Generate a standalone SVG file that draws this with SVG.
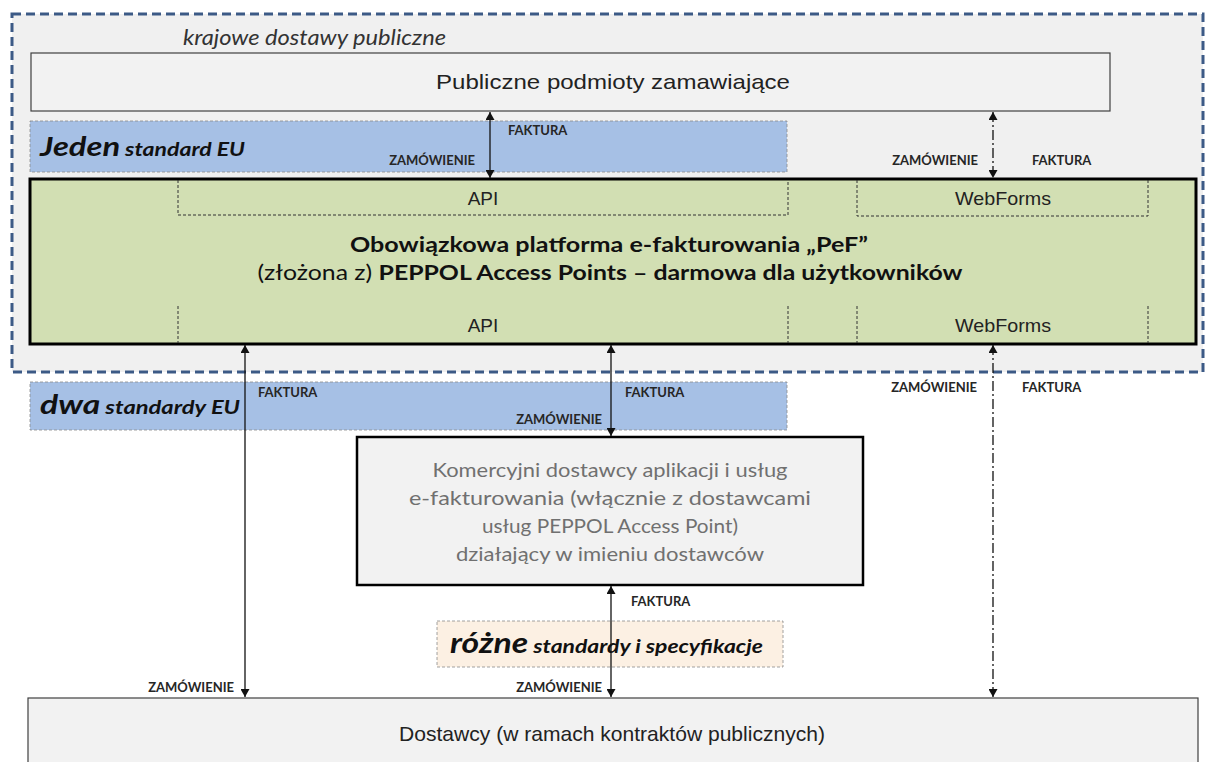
<svg xmlns="http://www.w3.org/2000/svg" width="1207" height="762" viewBox="0 0 1207 762">
<style>
.sans{font-family:"Liberation Sans",Arial,sans-serif;fill:#222}
.cal{font-family:Lato,"Open Sans",sans-serif}
.lbl{font-family:Lato,"Open Sans",sans-serif;font-weight:bold;font-size:13px;fill:#262626}
.band{stroke:#8a8a8a;stroke-width:0.8;stroke-dasharray:3 2}
.sub{fill:none;stroke:#333;stroke-width:1;stroke-dasharray:3 2}
.conn{stroke:#111;stroke-width:1.3;fill:none;marker-start:url(#ah);marker-end:url(#ah)}
.dd{stroke-dasharray:10 3 2 3}
</style>
<defs>
<marker id="ah" markerWidth="8" markerHeight="9" refX="8" refY="4.5" orient="auto-start-reverse" markerUnits="userSpaceOnUse">
<path d="M0,0 L8,4.5 L0,9 z" fill="#111"/>
</marker>
</defs>
<rect width="1207" height="762" fill="#ffffff"/>

<g id="container">
<rect x="12" y="14" width="1191" height="358" fill="#f0f0f0" stroke="#3c5a86" stroke-width="3" stroke-dasharray="9 5"/>
<text x="183" y="45" class="cal" font-style="italic" font-size="21" fill="#333" textLength="263" lengthAdjust="spacingAndGlyphs">krajowe dostawy publiczne</text>
</g>

<g id="public-entities">
<rect x="31" y="53" width="1079" height="58" fill="#f2f2f2" stroke="#404040" stroke-width="1.2"/>
<text x="613" y="89" class="sans" font-size="21" text-anchor="middle" textLength="354" lengthAdjust="spacingAndGlyphs">Publiczne podmioty zamawiające</text>
</g>

<g id="band-one-standard">
<rect x="30" y="121" width="757" height="51" fill="#a6c0e5" class="band"/>
<text x="40" y="156" class="cal" font-weight="bold" font-style="italic" fill="#111" textLength="205" lengthAdjust="spacingAndGlyphs"><tspan font-size="27">Jeden</tspan><tspan font-size="19"> standard EU</tspan></text>
</g>

<g id="platform">
<rect x="30" y="179" width="1166" height="165" fill="#d2dfb3" stroke="#000" stroke-width="3"/>
<path d="M178,180 V215 H788 V180" class="sub"/>
<path d="M857,180 V216 H1148 V180" class="sub"/>
<path d="M178,306 V343 M788,306 V343 M857,306 V343 M1148,306 V343" class="sub"/>
<text x="483" y="205" class="sans" font-size="19" text-anchor="middle">API</text>
<text x="1003" y="205" class="sans" font-size="19" text-anchor="middle" textLength="96" lengthAdjust="spacingAndGlyphs">WebForms</text>
<text x="483" y="332" class="sans" font-size="19" text-anchor="middle">API</text>
<text x="1003" y="332" class="sans" font-size="19" text-anchor="middle" textLength="96" lengthAdjust="spacingAndGlyphs">WebForms</text>
<text x="609" y="252" class="cal" font-weight="bold" font-size="21" fill="#111" text-anchor="middle" textLength="518" lengthAdjust="spacingAndGlyphs">Obowiązkowa platforma e-fakturowania „PeF”</text>
<text x="610" y="280" class="cal" font-size="21" fill="#111" text-anchor="middle" textLength="705" lengthAdjust="spacingAndGlyphs"><tspan>(złożona z) </tspan><tspan font-weight="bold">PEPPOL Access Points – darmowa dla użytkowników</tspan></text>
</g>

<g id="band-two-standards">
<rect x="30" y="382" width="757" height="48" fill="#a6c0e5" class="band"/>
<text x="40" y="414" class="cal" font-weight="bold" font-style="italic" fill="#111" textLength="200" lengthAdjust="spacingAndGlyphs"><tspan font-size="27">dwa</tspan><tspan font-size="19"> standardy EU</tspan></text>
</g>

<g id="commercial-providers">
<rect x="357" y="437" width="506" height="148" fill="#f2f2f2" stroke="#000" stroke-width="2.5"/>
<g class="cal" font-size="19" fill="#707070" text-anchor="middle" lengthAdjust="spacingAndGlyphs">
<text x="610" y="477" textLength="355" lengthAdjust="spacingAndGlyphs">Komercyjni dostawcy aplikacji i usług</text>
<text x="610" y="505" textLength="402" lengthAdjust="spacingAndGlyphs">e-fakturowania (włącznie z dostawcami</text>
<text x="610" y="533" textLength="256" lengthAdjust="spacingAndGlyphs">usług PEPPOL Access Point)</text>
<text x="610" y="561" textLength="308" lengthAdjust="spacingAndGlyphs">działający w imieniu dostawców</text>
</g>
</g>

<g id="band-various">
<rect x="437" y="621" width="346" height="46" fill="#fcf0e3" class="band"/>
<text x="450" y="653" class="cal" font-weight="bold" font-style="italic" fill="#111" textLength="313" lengthAdjust="spacingAndGlyphs"><tspan font-size="28">różne</tspan><tspan font-size="19"> standardy i specyfikacje</tspan></text>
</g>

<g id="suppliers">
<rect x="28" y="698" width="1170" height="70" fill="#f2f2f2" stroke="#404040" stroke-width="1.2"/>
<text x="612" y="741" class="sans" font-size="21" text-anchor="middle" textLength="426" lengthAdjust="spacingAndGlyphs">Dostawcy (w ramach kontraktów publicznych)</text>
</g>

<g id="connectors">
<line x1="490" y1="112" x2="490" y2="178" class="conn"/>
<line x1="993" y1="112" x2="993" y2="178" class="conn dd"/>
<line x1="245" y1="345" x2="245" y2="697" class="conn"/>
<line x1="611" y1="345" x2="611" y2="436" class="conn"/>
<line x1="611" y1="586" x2="611" y2="697" class="conn"/>
<line x1="993" y1="345" x2="993" y2="697" class="conn dd"/>
<text x="508" y="135" class="lbl">FAKTURA</text>
<text x="475" y="165" class="lbl" text-anchor="end">ZAMÓWIENIE</text>
<text x="978" y="165" class="lbl" text-anchor="end">ZAMÓWIENIE</text>
<text x="1032" y="165" class="lbl">FAKTURA</text>
<text x="258" y="397" class="lbl">FAKTURA</text>
<text x="625" y="397" class="lbl">FAKTURA</text>
<text x="602" y="424" class="lbl" text-anchor="end">ZAMÓWIENIE</text>
<text x="977" y="392" class="lbl" text-anchor="end">ZAMÓWIENIE</text>
<text x="1022" y="392" class="lbl">FAKTURA</text>
<text x="631" y="606" class="lbl">FAKTURA</text>
<text x="234" y="692" class="lbl" text-anchor="end">ZAMÓWIENIE</text>
<text x="602" y="692" class="lbl" text-anchor="end">ZAMÓWIENIE</text>
</g>
</svg>
